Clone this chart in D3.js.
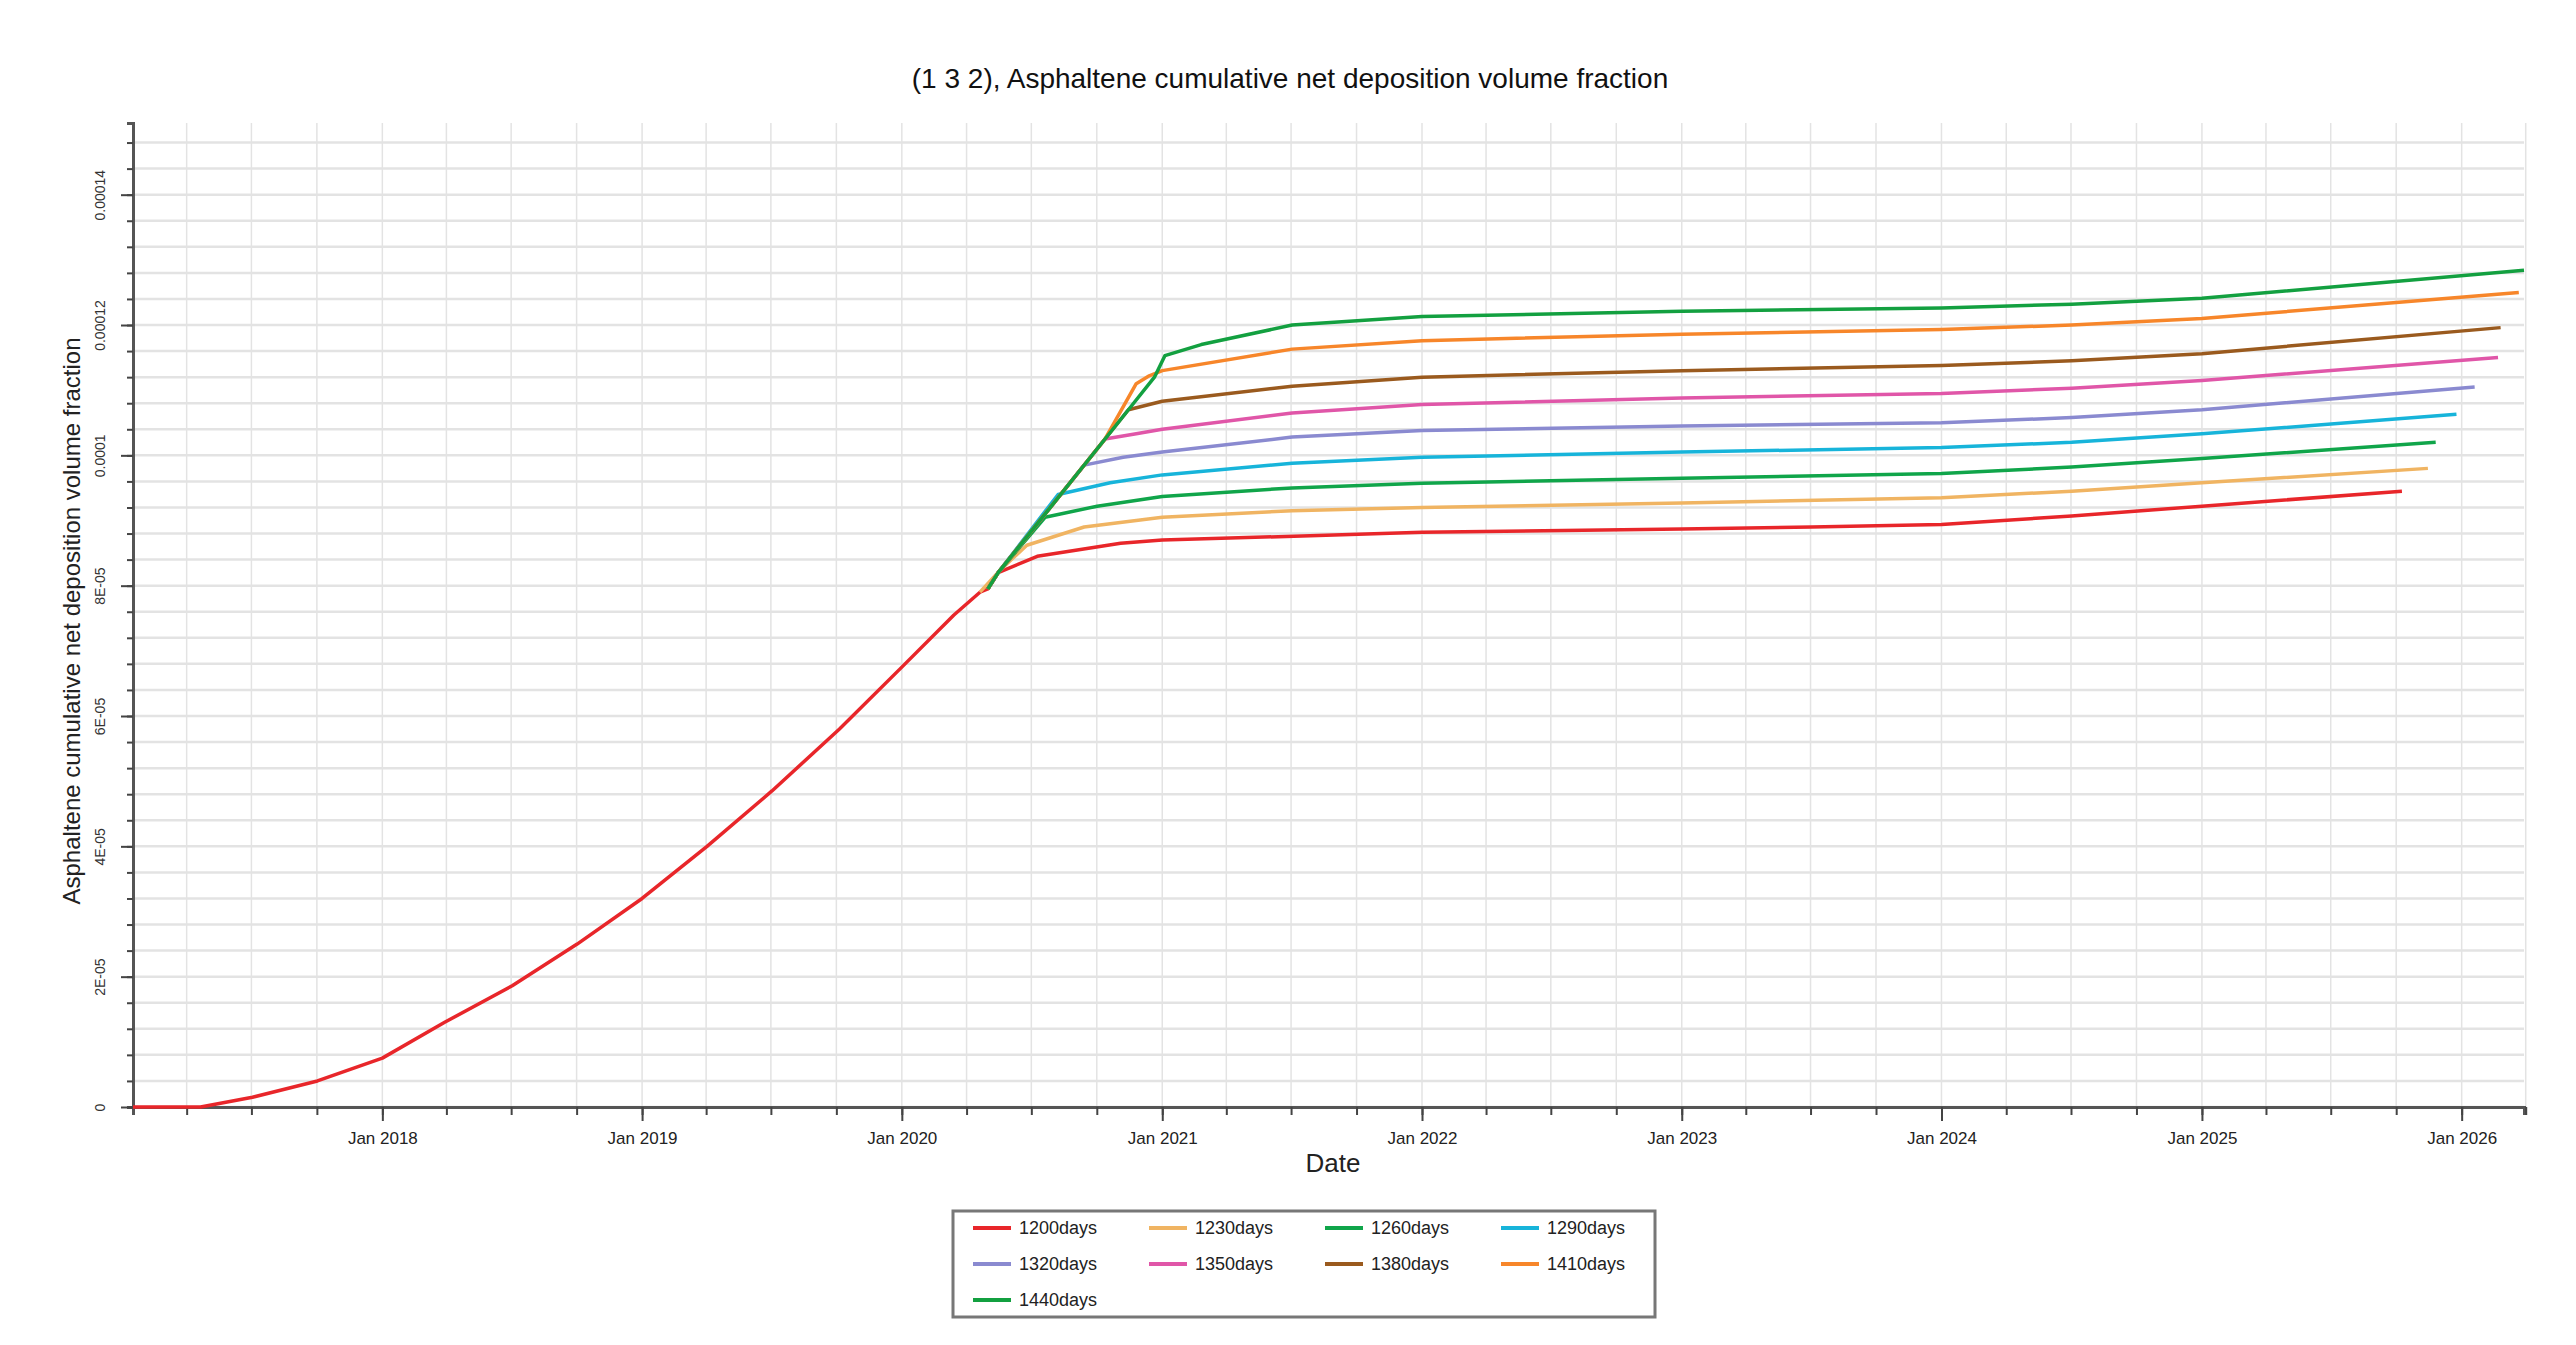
<!DOCTYPE html>
<html>
<head>
<meta charset="utf-8">
<script src="https://cdn.jsdelivr.net/npm/d3@7"></script>
<style>
body{margin:0;background:#fff;}
svg{display:block;}
</style>
</head>
<body>
<script>
const width = 2576;
const height = 1345;
const margin = {left:133, top:123, right:52, bottom:238};

const seriesNames = ['1200days','1230days','1260days','1290days','1320days','1350days','1380days','1410days','1440days'];
const colors = ['#E8262A','#F0B462','#10A54A','#17B4DA','#8A8AD0','#E056A8','#9A5A1E','#F7862A','#13A040'];

// [decimal year, value]
const s1200 = [[2017.04,0],[2017.3,0],[2017.5,1.5e-6],[2017.75,4e-6],[2018.0,7.5e-6],[2018.24,1.3e-5],[2018.5,1.86e-5],[2018.75,2.5e-5],[2019.0,3.2e-5],[2019.25,4.0e-5],[2019.5,4.85e-5],[2019.76,5.8e-5],[2020.0,6.75e-5],[2020.2,7.55e-5],[2020.3,7.9e-5],[2020.33,7.95e-5],[2020.37,8.2e-5],[2020.52,8.45e-5],[2020.84,8.65e-5],[2021.0,8.7e-5],[2021.6,8.77e-5],[2022.0,8.82e-5],[2023.0,8.87e-5],[2023.5,8.9e-5],[2024.0,8.94e-5],[2024.5,9.07e-5],[2025.0,9.22e-5],[2025.77,9.45e-5]];
const s1230 = [[2020.3,7.9e-5],[2020.38,8.25e-5],[2020.48,8.62e-5],[2020.7,8.9e-5],[2021.0,9.05e-5],[2021.5,9.15e-5],[2022.0,9.2e-5],[2023.0,9.27e-5],[2024.0,9.35e-5],[2024.5,9.45e-5],[2025.0,9.58e-5],[2025.87,9.8e-5]];
const s1260 = [[2020.33,7.95e-5],[2020.37,8.2e-5],[2020.55,9.05e-5],[2020.75,9.22e-5],[2021.0,9.37e-5],[2021.5,9.5e-5],[2022.0,9.57e-5],[2023.0,9.65e-5],[2024.0,9.72e-5],[2024.5,9.82e-5],[2025.0,9.95e-5],[2025.9,1.02e-4]];
const s1290 = [[2020.33,7.95e-5],[2020.37,8.2e-5],[2020.6,9.4e-5],[2020.8,9.58e-5],[2021.0,9.7e-5],[2021.5,9.88e-5],[2022.0,9.97e-5],[2023.0,1.005e-4],[2024.0,1.012e-4],[2024.5,1.02e-4],[2025.0,1.033e-4],[2025.98,1.063e-4]];
const s1320 = [[2020.33,7.95e-5],[2020.37,8.2e-5],[2020.7,9.85e-5],[2020.85,9.97e-5],[2021.0,1.005e-4],[2021.5,1.028e-4],[2022.0,1.038e-4],[2023.0,1.045e-4],[2024.0,1.05e-4],[2024.5,1.058e-4],[2025.0,1.07e-4],[2026.05,1.105e-4]];
const s1350 = [[2020.33,7.95e-5],[2020.37,8.2e-5],[2020.78,1.025e-4],[2020.9,1.033e-4],[2021.0,1.04e-4],[2021.5,1.065e-4],[2022.0,1.078e-4],[2023.0,1.088e-4],[2024.0,1.095e-4],[2024.5,1.103e-4],[2025.0,1.115e-4],[2026.14,1.15e-4]];
const s1380 = [[2020.33,7.95e-5],[2020.37,8.2e-5],[2020.87,1.07e-4],[2021.0,1.083e-4],[2021.5,1.106e-4],[2022.0,1.12e-4],[2023.0,1.13e-4],[2024.0,1.138e-4],[2024.5,1.145e-4],[2025.0,1.156e-4],[2026.15,1.196e-4]];
const s1410 = [[2020.33,7.95e-5],[2020.37,8.2e-5],[2020.78,1.025e-4],[2020.9,1.11e-4],[2020.95,1.122e-4],[2021.0,1.13e-4],[2021.5,1.163e-4],[2022.0,1.176e-4],[2023.0,1.186e-4],[2024.0,1.193e-4],[2024.5,1.2e-4],[2025.0,1.21e-4],[2026.22,1.25e-4]];
const s1440 = [[2020.33,7.95e-5],[2020.37,8.2e-5],[2020.87,1.07e-4],[2020.97,1.12e-4],[2021.01,1.153e-4],[2021.15,1.17e-4],[2021.5,1.2e-4],[2022.0,1.213e-4],[2023.0,1.221e-4],[2024.0,1.226e-4],[2024.5,1.232e-4],[2025.0,1.241e-4],[2026.24,1.284e-4]];
const allSeries = [s1200,s1230,s1260,s1290,s1320,s1350,s1380,s1410,s1440];

const yTicks = [0,2e-5,4e-5,6e-5,8e-5,1e-4,1.2e-4,1.4e-4];
const yTickLabels = ['0','2E-05','4E-05','6E-05','8E-05','0.0001','0.00012','0.00014'];
const xTickYears = [2018,2019,2020,2021,2022,2023,2024,2025,2026];

function toDate(y){
  const yr = Math.floor(y);
  const start = new Date(yr,0,1), end = new Date(yr+1,0,1);
  return new Date(start.getTime() + (y-yr)*(end-start));
}

const svg = d3.select('body').append('svg').attr('width',width).attr('height',height);
const pw = width-margin.left-margin.right;
const ph = height-margin.top-margin.bottom;

const x = d3.scaleTime().domain([toDate(2017.04),toDate(2026.24)]).range([0,pw]);
const y = d3.scaleLinear().domain([0,1.51e-4]).range([ph,0]);

const g = svg.append('g').attr('transform',`translate(${margin.left},${margin.top})`);

// grid
const quarters = d3.timeMonth.every(3).range(toDate(2017.04),toDate(2026.25));
g.append('g').selectAll('line').data(quarters).enter().append('line')
  .attr('x1',d=>x(d)).attr('x2',d=>x(d)).attr('y1',0).attr('y2',ph)
  .attr('stroke','#e3e3e3').attr('stroke-width',1.5);
const yMinor = d3.range(0,1.51e-4,4e-6);
g.append('g').selectAll('line').data(yMinor).enter().append('line')
  .attr('x1',0).attr('x2',pw).attr('y1',d=>y(d)).attr('y2',d=>y(d))
  .attr('stroke','#e3e3e3').attr('stroke-width',2.5);

// axes
const xAxis = g.append('g').attr('transform',`translate(0,${ph})`)
  .call(d3.axisBottom(x).tickValues(quarters).tickSize(8).tickFormat(''));
xAxis.select('.domain').attr('stroke','#555').attr('stroke-width',3);
xAxis.selectAll('.tick line').attr('stroke','#444').attr('stroke-width',2);
const xLab = g.append('g').attr('transform',`translate(0,${ph})`)
  .call(d3.axisBottom(x).tickValues(xTickYears.map(v=>new Date(v,0,1))).tickSize(14).tickFormat(d=>'Jan '+d.getFullYear()));
xLab.select('.domain').remove();
xLab.selectAll('.tick line').attr('stroke','#444').attr('stroke-width',2);
xLab.selectAll('text').attr('font-family','Liberation Sans Narrow, Liberation Sans, sans-serif').attr('font-size',17).attr('fill','#222').attr('dy','1.2em');

const yAxis = g.append('g')
  .call(d3.axisLeft(y).tickValues(yMinor).tickSize(6).tickFormat(''));
yAxis.select('.domain').attr('stroke','#555').attr('stroke-width',3);
yAxis.selectAll('.tick line').attr('stroke','#444').attr('stroke-width',2);
const yLab = g.append('g').call(d3.axisLeft(y).tickValues(yTicks).tickSize(12).tickFormat((d,i)=>yTickLabels[i]));
yLab.select('.domain').remove();
yLab.selectAll('.tick line').attr('stroke','#444').attr('stroke-width',2);
yLab.selectAll('text').attr('transform','rotate(-90)').attr('x',0).attr('y',-28).attr('dy','0')
  .attr('text-anchor','middle').attr('font-family','Liberation Sans, Arial, sans-serif').attr('font-size',14).attr('fill','#333');

// lines
const line = d3.line().x(d=>x(toDate(d[0]))).y(d=>y(d[1]));
g.append('g').selectAll('path').data(allSeries).enter().append('path')
  .attr('d',line).attr('fill','none').attr('stroke',(d,i)=>colors[i]).attr('stroke-width',3.5)
  .attr('stroke-linejoin','round');

// titles
svg.append('text').attr('x',1290).attr('y',88).attr('text-anchor','middle')
  .attr('font-family','Liberation Sans, Arial, sans-serif').attr('font-size',28).attr('fill','#111')
  .text('(1 3 2), Asphaltene cumulative net deposition volume fraction');
svg.append('text').attr('transform',`translate(80,${margin.top+ph/2+6}) rotate(-90)`).attr('text-anchor','middle')
  .attr('font-family','Liberation Sans, Arial, sans-serif').attr('font-size',24).attr('fill','#222')
  .text('Asphaltene cumulative net deposition volume fraction');
svg.append('text').attr('x',1333).attr('y',1172).attr('text-anchor','middle')
  .attr('font-family','Liberation Sans Narrow, Liberation Sans, sans-serif').attr('font-size',26).attr('fill','#222')
  .text('Date');

// legend
const leg = svg.append('g').attr('transform','translate(953,1211)');
leg.append('rect').attr('width',702).attr('height',106).attr('fill','#fff').attr('stroke','#777').attr('stroke-width',3);
const items = leg.selectAll('g.item').data(seriesNames).enter().append('g')
  .attr('transform',(d,i)=>`translate(${20+(i%4)*176},${17+Math.floor(i/4)*36})`);
items.append('line').attr('x1',0).attr('x2',38).attr('y1',0).attr('y2',0)
  .attr('stroke',(d,i)=>colors[i]).attr('stroke-width',4);
items.append('text').attr('x',46).attr('y',6).text(d=>d)
  .attr('font-family','Liberation Sans Narrow, Liberation Sans, sans-serif').attr('font-size',18).attr('fill','#222');
</script>
</body>
</html>
